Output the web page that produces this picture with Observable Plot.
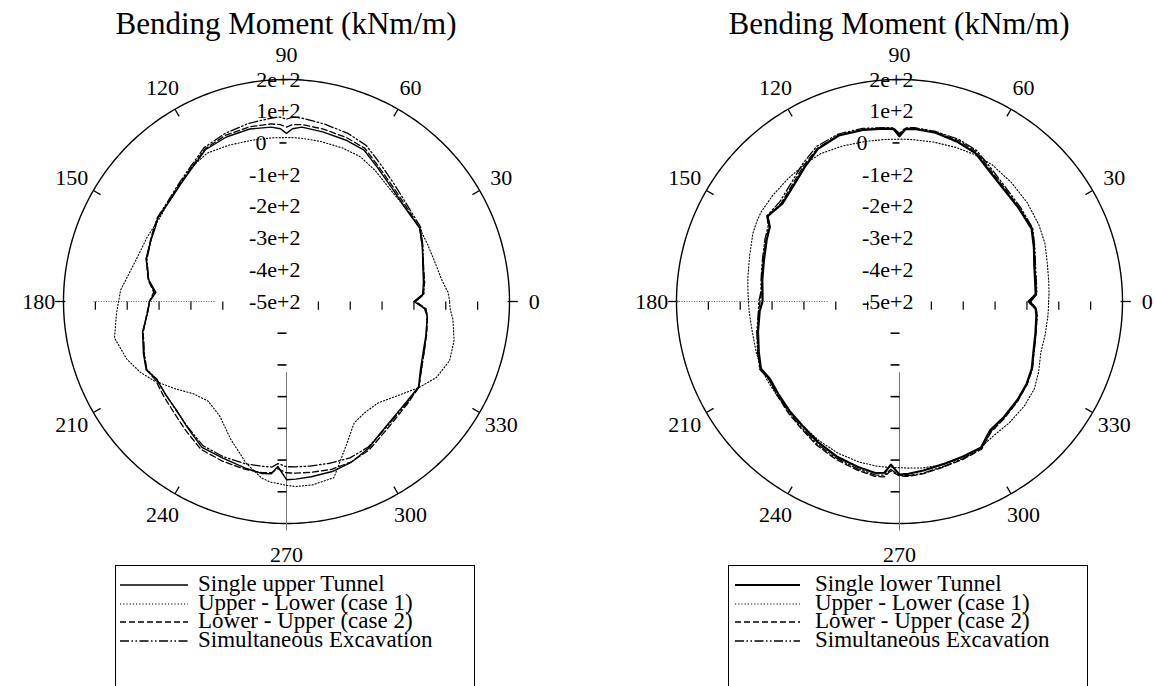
<!DOCTYPE html>
<html><head><meta charset="utf-8">
<script src="https://cdn.jsdelivr.net/npm/d3@7"></script>
<script src="https://cdn.jsdelivr.net/npm/@observablehq/plot@0.6"></script>
<style>
body{margin:0;background:#fff;width:1156px;height:686px;overflow:hidden;position:relative;font-family:"Liberation Serif","Times New Roman",serif;color:#000}
.title{position:absolute;top:8px;font-size:31px;line-height:31px;text-align:center;white-space:nowrap}
.chart{position:absolute;top:48px}
.legend{position:absolute;top:565px;height:160px;border:1.5px solid #000;background:#fff;box-sizing:border-box}
.row{position:absolute;font-size:23px;line-height:18px;white-space:nowrap}
.sample{position:absolute}
</style></head><body>
<script>
// ---- data ----
const angles = [0, 3, 8, 15, 22, 29, 38, 47, 56, 63,
  70, 78, 85, 88, 90, 92, 95, 102, 110, 118,
  125, 132, 140, 147, 150, 155, 163, 171, 176, 180,
  184, 192, 200, 206, 211, 218, 225, 232, 240, 248,
  256, 262, 265, 267, 270, 273, 278, 285, 292, 299,
  305, 312, 320, 327, 333, 340, 347, 354, 357, 360];

// Left chart (upper tunnel)
const upperSingle = [-100, -72, -66, -57, -40, -22, -25, -13, 10, 36,
  42, 47, 52, 45, 30, 45, 52, 56, 52, 42,
  15, -3, -16, -18, -26, -32, -39, -62, -89, -70,
  -64, -38, -22, -10, -24, -20, -13, 5, 31, 33,
  41, 48, 45, 21, 62, 61, 58, 55, 46, 30,
  10, -3, -8, -6, -28, -43, -50, -56, -66, -100];
const upperCase1 = [12, 9, -8, -18, -22, -22, -24, -20, -2, 12,
  15, 16, 17, 17, 17, 17, 18, 20, 25, 30,
  18, -2, -15, -23, -22, -18, -12, 5, 22, 27,
  35, 52, 33, 10, -15, -54, -88, -101, -82, -32,
  25, 62, 72, 74, 80, 84, 84, 75, -5, -62,
  -72, -70, -40, -3, 28, 45, 40, 25, 15, 12];
const upperCase2 = [-95, -70, -62, -55, -40, -22, -20, -8, 15, 42,
  50, 56, 60, 58, 50, 58, 62, 63, 58, 45,
  18, 0, -14, -18, -22, -30, -40, -60, -82, -70,
  -62, -40, -24, -10, -20, -12, -2, 15, 38, 42,
  45, 45, 42, 28, 40, 42, 44, 48, 45, 35,
  18, 5, -2, -4, -25, -40, -48, -55, -62, -95];
const upperSimul = [-95, -68, -64, -55, -38, -18, -15, 0, 25, 52,
  64, 72, 80, 82, 75, 82, 80, 74, 64, 50,
  22, 3, -12, -16, -24, -32, -42, -62, -85, -70,
  -64, -40, -25, -12, -25, -20, -12, 3, 25, 28,
  28, 25, 24, 12, 21, 22, 24, 28, 32, 26,
  12, 0, -5, -4, -25, -40, -50, -56, -62, -95];

// Right chart (lower tunnel)
const lowerSingle = [-95, -72, -70, -62, -45, -26, -24, -18, 0, 25,
  35, 44, 46, 44, 21, 44, 47, 53, 57, 45,
  18, -5, -20, -6, -30, -40, -55, -64, -69, -70,
  -60, -46, -30, -16, -26, -20, -12, -4, 12, 27,
  38, 46, 42, 15, 46, 44, 38, 31, 28, 27,
  -4, -10, -17, -24, -34, -52, -62, -68, -72, -95];
const lowerCase1 = [-32, -30, -27, -20, -8, 0, 8, 14, 20, 20,
  17, 14, 12, 12, 12, 12, 13, 16, 22, 28,
  25, 22, 20, 18, 15, 8, -8, -18, -23, -26,
  -27, -28, -22, -18, -16, -14, -10, -4, 6, 16,
  22, 24, 24, 24, 24, 26, 30, 32, 30, 26,
  16, 15, 12, 5, -10, -28, -31, -32, -32, -32];
const lowerCase2 = [-90, -70, -68, -60, -44, -24, -22, -14, 5, 30,
  40, 46, 48, 46, 28, 46, 48, 54, 58, 48,
  24, 0, -16, -8, -28, -38, -52, -62, -66, -62,
  -58, -44, -28, -14, -22, -15, -5, 5, 22, 36,
  48, 57, 55, 35, 50, 52, 48, 40, 36, 32,
  2, -6, -14, -22, -32, -50, -60, -66, -70, -90];
const lowerSimul = [-88, -68, -66, -58, -42, -22, -18, -10, 10, 34,
  44, 48, 50, 48, 30, 48, 50, 58, 62, 54,
  30, 6, -10, -4, -24, -34, -50, -60, -64, -58,
  -56, -42, -26, -12, -22, -16, -8, 2, 18, 32,
  44, 52, 50, 30, 48, 50, 46, 38, 34, 30,
  0, -8, -15, -22, -32, -50, -60, -66, -70, -88];

const angleTicks = [0, 30, 60, 90, 120, 150, 180, 210, 240, 270, 300, 330];
const radialValues = [200, 100, 0, -100, -200, -300, -400, -500];
const radialLabels = ["2e+2", "1e+2", "0", "-1e+2", "-2e+2", "-3e+2", "-4e+2", "-5e+2"];
const titleText = "Bending Moment (kNm/m)";
const leftLegend = ["Single upper Tunnel", "Upper - Lower (case 1)", "Lower - Upper (case 2)", "Simultaneous Excavation"];
const rightLegend = ["Single lower Tunnel", "Upper - Lower (case 1)", "Lower - Upper (case 2)", "Simultaneous Excavation"];

// ---- drawing ----
const rMin = -500, rMax = 200, R = rMax - rMin;
const rad = a => a * Math.PI / 180;
const styles = [
  {dash: null, width: 1.4},
  {dash: "1.2,2", width: 1.1},
  {dash: "6,3", width: 1.3},
  {dash: "9,2.5,1.5,2.5,1.5,2.5", width: 1.3}
];

function polar(vals) {
  return angles.map((a, i) => ({x: (vals[i] - rMin) * Math.cos(rad(a)), y: (vals[i] - rMin) * Math.sin(rad(a))}));
}

function chart({left, width, cxSvg, series, solidWidth, dottedFrom, skipFirstLeft, zeroDx}) {
  const cy = 253;
  const circle = d3.range(0, 361, 1).map(a => ({x: R * Math.cos(rad(a)), y: R * Math.sin(rad(a))}));
  const innerTicks = angleTicks.filter(a => a % 90 !== 0);
  const hTicks = [];
  for (let k = 1; k <= 6; k++) {
    hTicks.push(k * 100);
    if (!(skipFirstLeft && k === 1)) hTicks.push(-k * 100);
  }
  const marks = [
    Plot.line(circle, {x: "x", y: "y", stroke: "#000", strokeWidth: 1.4}),
    Plot.link(innerTicks, {x1: a => R * Math.cos(rad(a)), y1: a => R * Math.sin(rad(a)), x2: a => (R - 26) * Math.cos(rad(a)), y2: a => (R - 26) * Math.sin(rad(a)), stroke: "#000", strokeWidth: 1.3}),
    Plot.link([0, 180], {x1: a => (R - 6) * Math.cos(rad(a)), y1: 0, x2: a => (R + 26) * Math.cos(rad(a)), y2: 0, stroke: "#000", strokeWidth: 1.3}),
    Plot.link([270], {x1: 0, y1: -223, x2: 0, y2: -(R + 22), stroke: "#777", strokeWidth: 1}),
    Plot.link([dottedFrom], {x1: d => d, y1: 0, x2: -226, y2: 0, stroke: "#666", strokeWidth: 1, strokeDasharray: "1,1.5"}),
    Plot.link(hTicks, {x1: d => d, y1: 0, x2: d => d, y2: -26, stroke: "#000", strokeWidth: 1.2}),
    Plot.link([100, 200, 300, 400, 500, 600], {x1: -28, y1: d => -d, x2: 0, y2: d => -d, stroke: "#000", strokeWidth: 1.6}),
    Plot.link([0], {x1: -22, y1: v => v - rMin, x2: 0, y2: v => v - rMin, stroke: "#000", strokeWidth: 1.6}),
    ...series.map((vals, i) => Plot.line(polar(vals), {x: "x", y: "y", stroke: "#000", strokeWidth: i === 0 ? solidWidth : styles[i].width, strokeDasharray: styles[i].dash, curve: "linear"})),
    Plot.text(angleTicks, {x: a => 778 * Math.cos(rad(a)), y: a => (a === 270 ? 800 : 778) * Math.sin(rad(a)), text: a => String(a), fontSize: 22}),
    Plot.text(radialValues.filter(v => v !== 0), {x: 0, y: v => v - rMin, text: v => radialLabels[radialValues.indexOf(v)], textAnchor: "end", dx: 14, fontSize: 22}),
    Plot.text([0], {x: 0, y: v => v - rMin, text: v => radialLabels[radialValues.indexOf(v)], textAnchor: "end", dx: zeroDx, fontSize: 22})
  ];
  const svg = Plot.plot({
    width, height: 517, margin: 0,
    x: {domain: [-R, R], range: [cxSvg - 223, cxSvg + 223], axis: null},
    y: {domain: [-R, R], range: [cy + 222, cy - 222], axis: null},
    style: {fontFamily: "'Liberation Serif', 'Times New Roman', serif", background: "transparent", overflow: "visible"},
    marks
  });
  const div = document.createElement("div");
  div.className = "chart";
  div.style.left = left + "px";
  div.appendChild(svg);
  document.body.appendChild(div);
}

function title(cx) {
  const d = document.createElement("div");
  d.className = "title";
  d.style.left = (cx - 250) + "px";
  d.style.width = "500px";
  d.textContent = titleText;
  document.body.appendChild(d);
}

function legend(boxLeft, boxWidth, sampleLeft, sampleWidth, textLeft, labels, solidWidth) {
  const box = document.createElement("div");
  box.className = "legend";
  box.style.left = boxLeft + "px";
  box.style.width = boxWidth + "px";
  document.body.appendChild(box);
  labels.forEach((lab, i) => {
    const y = 585 + i * 18.6;
    const s = styles[i];
    const svgNS = "http://www.w3.org/2000/svg";
    const sv = document.createElementNS(svgNS, "svg");
    sv.setAttribute("class", "sample");
    sv.setAttribute("width", sampleWidth);
    sv.setAttribute("height", 6);
    sv.style.left = sampleLeft + "px";
    sv.style.top = (y - 3) + "px";
    const ln = document.createElementNS(svgNS, "line");
    ln.setAttribute("x1", 0); ln.setAttribute("x2", sampleWidth);
    ln.setAttribute("y1", 3); ln.setAttribute("y2", 3);
    ln.setAttribute("stroke", "#000");
    ln.setAttribute("stroke-width", i === 0 ? solidWidth : s.width);
    if (s.dash) ln.setAttribute("stroke-dasharray", s.dash);
    sv.appendChild(ln);
    document.body.appendChild(sv);
    const t = document.createElement("div");
    t.className = "row";
    t.style.left = textLeft + "px";
    t.style.top = (y - 10) + "px";
    t.textContent = lab;
    document.body.appendChild(t);
  });
}

title(286);
title(899);
chart({left: 0, width: 578, cxSvg: 286, series: [upperSingle, upperCase1, upperCase2, upperSimul], solidWidth: 1.4, dottedFrom: -606, skipFirstLeft: true, zeroDx: -20});
chart({left: 578, width: 578, cxSvg: 321, series: [lowerSingle, lowerCase1, lowerCase2, lowerSimul], solidWidth: 2.2, dottedFrom: -700, skipFirstLeft: false, zeroDx: -32});
legend(115, 360, 120, 68, 198, leftLegend, 1.4);
legend(728, 360, 735, 65, 815, rightLegend, 2.2);
</script>
</body></html>
